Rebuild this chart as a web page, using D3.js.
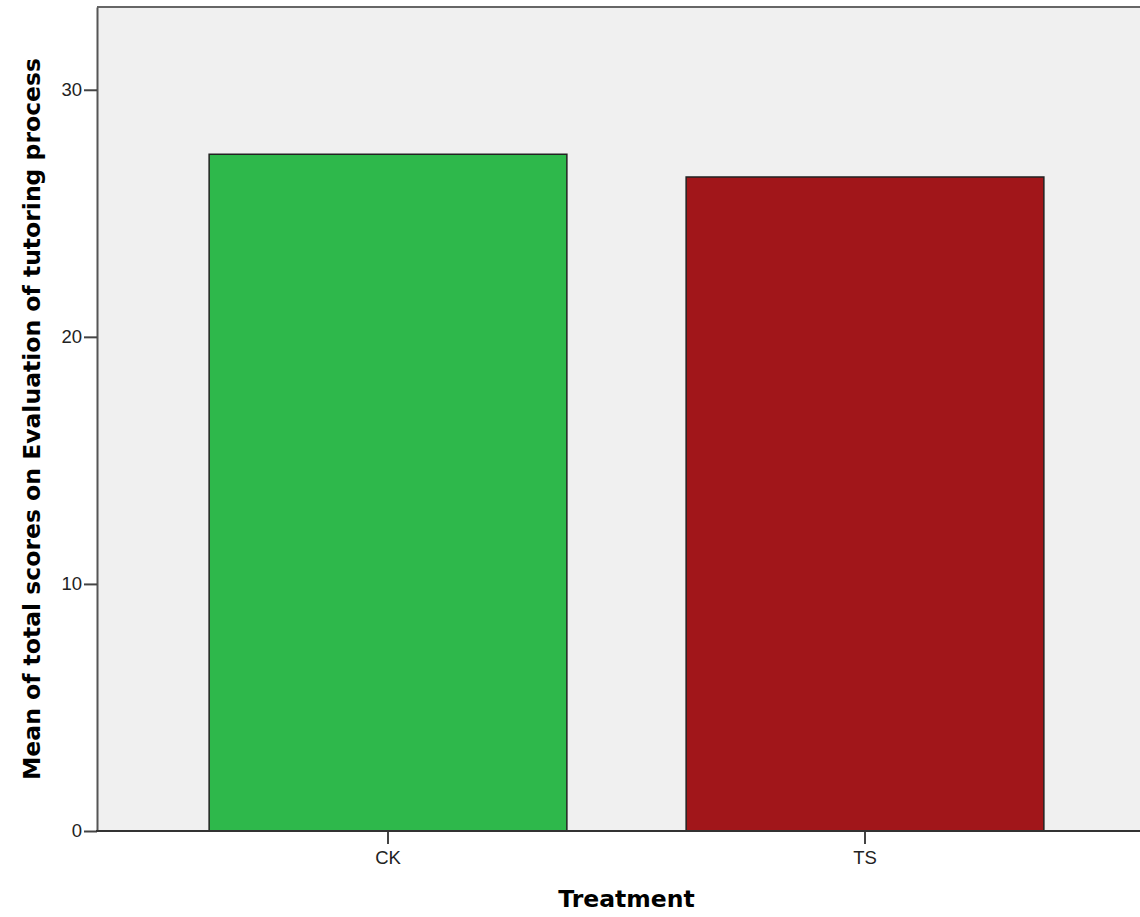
<!DOCTYPE html>
<html>
<head>
<meta charset="utf-8">
<script src="https://cdn.jsdelivr.net/npm/d3@7"></script>
<style>
  body { margin: 0; background: #fff; }
  .tick text { font-family: "Liberation Sans", Arial, sans-serif; font-size: 18.5px; fill: #222; }
  .title { font-family: "DejaVu Sans", Verdana, sans-serif; font-weight: bold; font-size: 23.5px; fill: #000; }
</style>
</head>
<body>
<div id="chart"></div>
<script>
"use strict";

// data
var treatments = ["CK", "TS"];
var meanScores = [27.39, 26.47];
var barColors = ["#2eb84b", "#a1161a"];
var yTicks = [0, 10, 20, 30];
var yMax = 33.35;

var width = 1140, height = 917;
var plot = {left: 97, top: 7, right: 1156, bottom: 831};

var svg = d3.select("#chart").append("svg")
  .attr("width", width)
  .attr("height", height);

// plot background
svg.append("rect")
  .attr("x", plot.left)
  .attr("y", plot.top)
  .attr("width", plot.right - plot.left)
  .attr("height", plot.bottom - plot.top)
  .attr("fill", "#f0f0f0");

var x = d3.scaleBand()
  .domain(treatments)
  .range([149.5, 1103.5])
  .paddingInner(0.25)
  .paddingOuter(0.125);

var y = d3.scaleLinear()
  .domain([0, yMax])
  .range([plot.bottom, plot.top]);

// bars
svg.selectAll("rect.bar")
  .data(treatments)
  .enter()
  .append("rect")
  .attr("class", "bar")
  .attr("x", function(d) { return x(d); })
  .attr("y", function(d, i) { return y(meanScores[i]); })
  .attr("width", x.bandwidth())
  .attr("height", function(d, i) { return y(0) - y(meanScores[i]); })
  .attr("fill", function(d, i) { return barColors[i]; })
  .attr("stroke", "#222")
  .attr("stroke-width", 1.5);

// top frame line
svg.append("line")
  .attr("x1", plot.left).attr("x2", plot.right)
  .attr("y1", plot.top).attr("y2", plot.top)
  .attr("stroke", "#666")
  .attr("stroke-width", 2);

// y axis
var yAxis = svg.append("g")
  .attr("transform", "translate(" + plot.left + ",0)")
  .call(d3.axisLeft(y).tickValues(yTicks).tickSize(13).tickPadding(2).tickSizeOuter(0));
yAxis.select(".domain").attr("stroke", "#555").attr("stroke-width", 2);
yAxis.selectAll(".tick line").attr("stroke", "#444").attr("stroke-width", 2);

// x axis
var xAxis = svg.append("g")
  .attr("transform", "translate(0," + plot.bottom + ")")
  .call(d3.axisBottom(x).tickSize(13).tickPadding(7).tickSizeOuter(0));
xAxis.select(".domain").remove();
xAxis.append("line")
  .attr("x1", plot.left - 1).attr("x2", plot.right)
  .attr("stroke", "#333")
  .attr("stroke-width", 2);
xAxis.selectAll(".tick line").attr("stroke", "#444").attr("stroke-width", 2);

// axis titles
svg.append("text")
  .attr("class", "title")
  .attr("x", (x.range()[0] + x.range()[1]) / 2)
  .attr("y", 907)
  .attr("text-anchor", "middle")
  .text("Treatment");

svg.append("text")
  .attr("class", "title")
  .attr("transform", "translate(40," + (plot.top + plot.bottom) / 2 + ") rotate(-90)")
  .attr("text-anchor", "middle")
  .text("Mean of total scores on Evaluation of tutoring process");
</script>
</body>
</html>
